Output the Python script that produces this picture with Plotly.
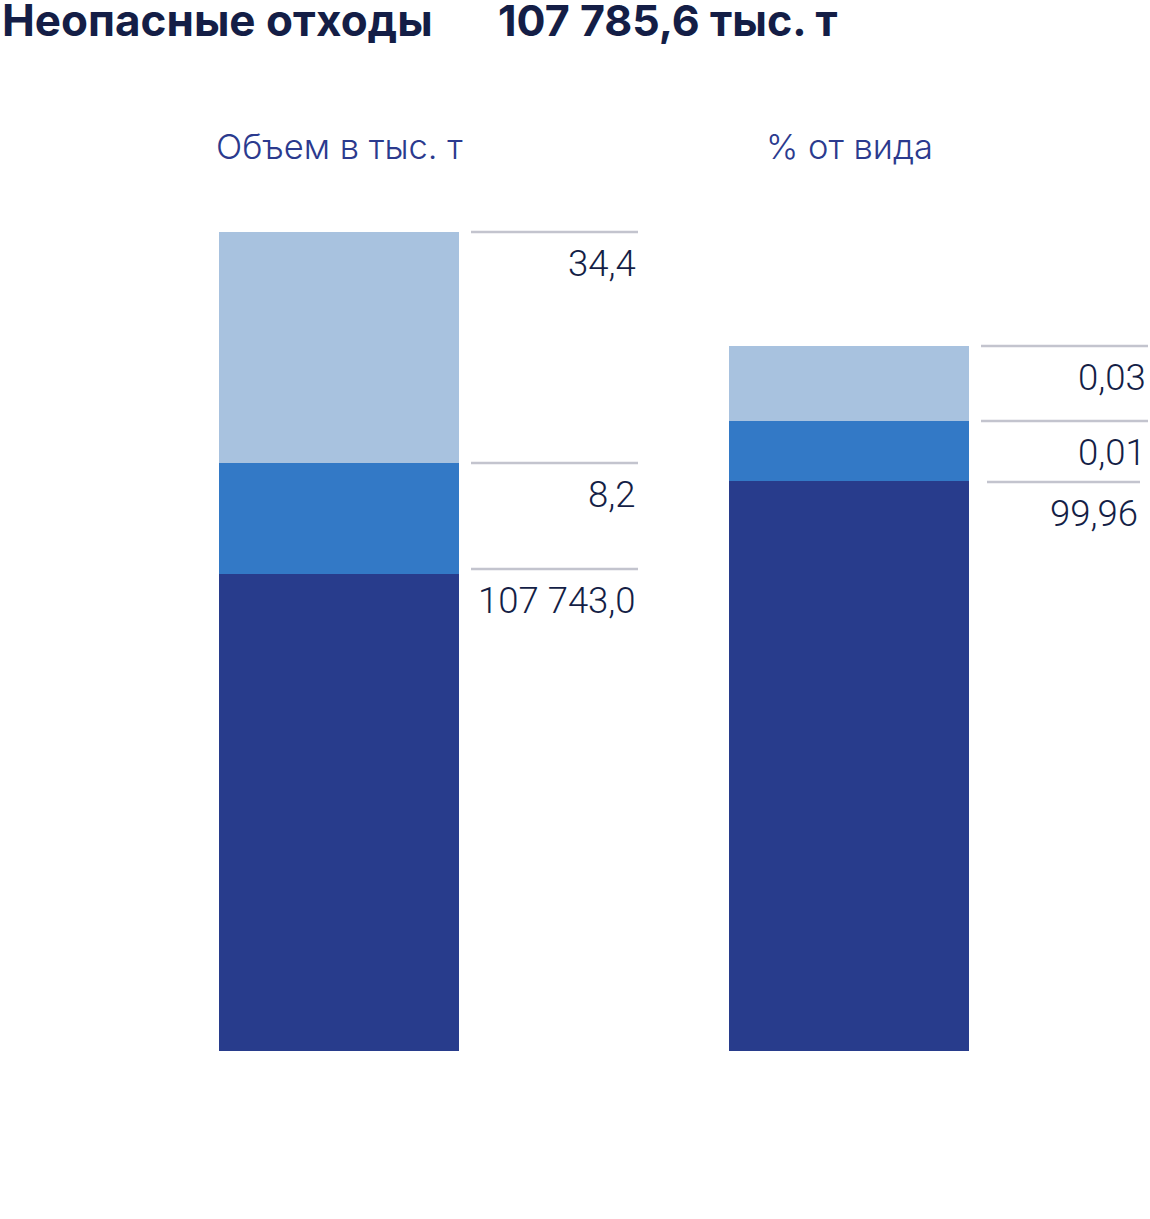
import plotly.graph_objects as go

# two stacked columns, segments listed bottom -> top
groups = ["Объем в тыс. т", "% от вида"]
volume_labels = ["107 743,0", "8,2", "34,4"]
share_labels = ["99,96", "0,01", "0,03"]
# drawn segment heights (the original artwork is not to scale)
volume_heights = [477, 111, 231]
share_heights = [570, 60, 75]

title_left = "Неопасные отходы"
title_right = "107 785,6 тыс. т"

colors = ["#283C8C", "#3379C6", "#A8C2DF"]
NAVY = "#141E46"
SUB = "#2B3A8E"
RULE = "#C3C4CE"
NUM_FONT = "Roboto"
TXT_FONT = "Inter"

W, H = 1150, 1219
base_px = 1051           # pixel row of the bar bottoms
centers = [339, 849]
bar_w = 240

fig = go.Figure()
for i, seg_color in enumerate(colors):
    fig.add_trace(go.Bar(
        x=centers, y=[volume_heights[i], share_heights[i]],
        width=bar_w, marker=dict(color=seg_color, line=dict(width=0)),
        hoverinfo="skip", showlegend=False))

# value rules + labels at each segment top
label_sets = [volume_labels, share_labels]
height_sets = [volume_heights, share_heights]
# small per-segment tweaks (rule inset left/right, rule shift) seen in the original
tweaks = {(0, 0): (0, 0, 5), (1, 0): (6, 8, -1)}
for g, (cx, labels, heights) in enumerate(zip(centers, label_sets, height_sets)):
    top = 0
    for s, (lab, h) in enumerate(zip(labels, heights)):
        top += h
        l_in, r_in, dy = tweaks.get((g, s), (0, 0, 0))
        y_rule = top + dy
        fig.add_shape(type="line", x0=cx + 132 + l_in, x1=cx + 299 - r_in,
                      y0=y_rule, y1=y_rule, line=dict(color=RULE, width=2.5),
                      xref="x", yref="y")
        fig.add_annotation(x=cx + 299 - r_in, y=y_rule - 31, text=lab,
                           xanchor="right", yanchor="middle", showarrow=False,
                           font=dict(family=NUM_FONT, size=36.5, color=NAVY, weight=300))
    fig.add_annotation(x=cx, y=base_px - 146, text=groups[g], showarrow=False,
                       xanchor="center", yanchor="middle",
                       font=dict(family=TXT_FONT, size=34.5, color=SUB, weight=300))

fig.add_annotation(xref="paper", yref="paper", x=0, y=1 - 20 / H, text=title_left,
                   xanchor="left", yanchor="middle", showarrow=False,
                   font=dict(family=TXT_FONT, size=44, color=NAVY, weight=700))
fig.add_annotation(xref="paper", yref="paper", x=496 / W, y=1 - 20 / H, text=title_right,
                   xanchor="left", yanchor="middle", showarrow=False,
                   font=dict(family=TXT_FONT, size=43, color=NAVY, weight=700))

fig.update_layout(
    width=W, height=H, margin=dict(l=0, r=0, t=0, b=0),
    paper_bgcolor="white", plot_bgcolor="white",
    barmode="stack", bargap=0,
    xaxis=dict(range=[0, W], visible=False, fixedrange=True),
    yaxis=dict(range=[-(H - base_px), base_px], visible=False, fixedrange=True),
)
# drop the default page margin so the figure sits at the window corner
fig.write_html("out.html", config={"displayModeBar": False},
               post_script="document.body.style.margin='0';document.body.style.overflow='hidden';")
